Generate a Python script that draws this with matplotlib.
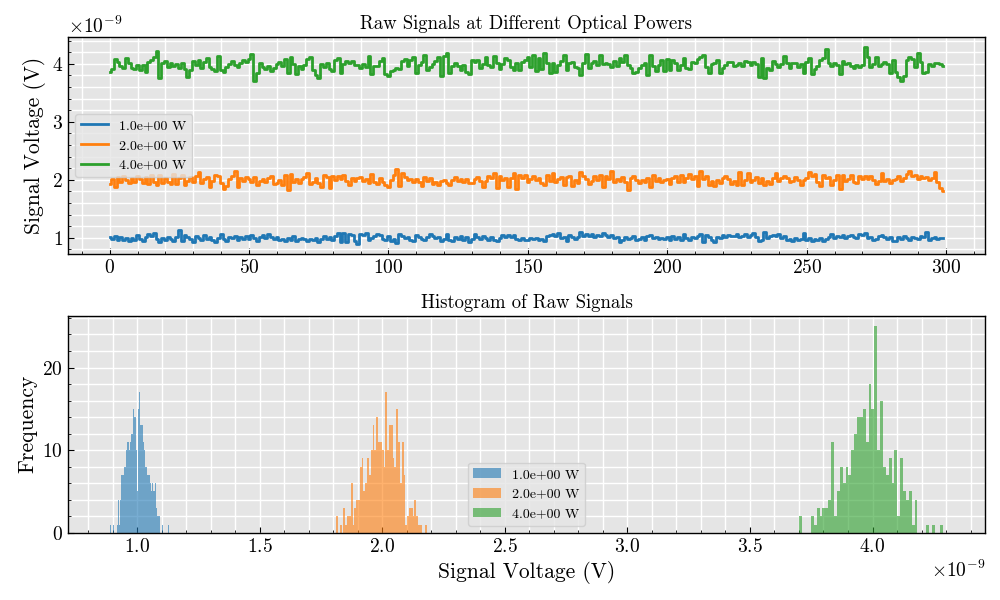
import matplotlib
matplotlib.use("Agg")
import matplotlib.pyplot as plt
import numpy as np
from matplotlib.ticker import AutoMinorLocator

# optical powers (W) and raw signal traces, values in units of 1e-9 V
powers = [1.0, 2.0, 4.0]

sig_1w = [
    1.012, 0.983, 1.021, 0.968, 1.004, 0.952, 0.989, 0.943, 0.997, 0.961,
    1.043, 0.976, 0.938, 1.009, 1.061, 1.032, 1.074, 0.981, 0.921, 0.993,
    0.958, 1.018, 0.972, 0.947, 1.006, 1.128, 0.936, 1.047, 1.015, 0.978,
    0.918, 1.026, 0.994, 0.962, 1.038, 0.985, 1.013, 0.954, 0.931, 1.002,
    1.067, 0.976, 0.941, 1.019, 0.988, 1.031, 0.963, 1.008, 0.979, 1.024,
    0.969, 1.052, 0.987, 0.948, 1.011, 1.044, 0.996, 1.058, 1.017, 0.973,
    1.006, 0.957, 0.984, 0.939, 0.992, 0.966, 1.021, 0.951, 0.978, 1.003,
    0.971, 0.944, 0.985, 0.956, 0.998, 0.932, 0.969, 1.027, 0.981, 1.012,
    0.962, 1.034, 1.079, 0.927, 1.086, 0.934, 1.057, 1.041, 0.946, 0.887,
    1.071, 1.049, 1.083, 0.952, 0.993, 1.028, 1.064, 1.039, 0.974, 0.957,
    1.036, 0.949, 0.974, 0.902, 1.061, 1.024, 0.991, 1.014, 0.967, 0.945,
    1.042, 1.006, 0.977, 0.958, 1.019, 1.066, 1.033, 0.986, 1.011, 0.943,
    0.981, 1.072, 0.959, 0.938, 1.004, 0.982, 1.027, 0.968, 1.013, 0.922,
    0.976, 1.058, 1.009, 0.971, 1.034, 0.987, 0.952, 1.016, 0.963, 0.941,
    0.992, 1.046, 1.018, 1.053, 1.007, 1.039, 0.984, 0.961, 0.997, 0.966,
    0.953, 0.989, 0.972, 1.001, 0.958, 0.983, 0.936, 1.022, 1.048, 1.063,
    1.031, 1.088, 0.994, 1.012, 0.947, 1.044, 1.019, 0.978, 1.005, 1.091,
    1.036, 1.069, 1.021, 1.057, 1.009, 1.047, 1.026, 1.073, 1.038, 1.014,
    1.052, 0.988, 1.017, 0.921, 0.959, 1.008, 0.973, 0.996, 1.023, 0.967,
    0.984, 1.011, 0.956, 1.029, 1.043, 0.994, 1.018, 0.971, 1.002, 0.979,
    1.013, 0.968, 1.026, 0.982, 1.007, 0.954, 1.059, 0.991, 0.962, 1.016,
    0.986, 1.024, 1.063, 0.932, 1.045, 1.007, 0.961, 0.921, 1.018, 0.993,
    1.041, 1.009, 1.053, 1.022, 1.037, 1.066, 1.004, 1.029, 1.071, 1.012,
    1.048, 1.077, 1.019, 0.943, 0.966, 1.092, 0.997, 1.021, 1.052, 1.034,
    1.061, 0.989, 1.028, 0.963, 0.981, 0.942, 0.996, 0.957, 0.974, 1.075,
    0.967, 0.992, 0.948, 0.983, 0.954, 1.003, 0.937, 0.969, 1.014, 1.068,
    0.991, 1.036, 1.012, 1.047, 1.003, 1.026, 1.054, 1.018, 0.988, 1.071,
    1.049, 1.082, 0.996, 1.013, 0.961, 0.982, 1.024, 1.038, 1.006, 0.977,
    1.011, 0.948, 0.939, 1.017, 0.984, 1.027, 0.993, 0.968, 1.012, 0.986,
    0.972, 1.031, 1.004, 1.103, 0.963, 0.988, 1.009, 0.978, 1.002, 0.991,
]

sig_2w = [
    1.928, 2.013, 1.872, 2.041, 1.962, 2.068, 1.987, 1.941, 2.032, 1.956,
    2.061, 2.019, 1.937, 2.052, 1.921, 2.087, 1.958, 1.903, 2.074, 1.947,
    2.036, 1.969, 1.918, 2.093, 1.934, 2.027, 2.081, 1.909, 1.976, 2.048,
    1.961, 2.072, 2.131, 1.944, 2.006, 2.043, 1.873, 1.982, 2.086, 2.057,
    1.951, 1.843, 1.887, 2.012, 2.063, 2.158, 1.871, 2.024, 1.986, 2.039,
    2.018, 1.964, 2.047, 1.912, 1.978, 2.009, 1.953, 2.033, 2.071, 1.926,
    1.948, 1.991, 1.917, 2.082, 1.818, 2.094, 1.962, 2.016, 1.938, 2.004,
    2.047, 2.112, 1.932, 1.966, 2.023, 1.941, 1.872, 2.076, 2.044, 1.861,
    2.058, 1.996, 2.067, 2.021, 2.083, 1.973, 1.902, 2.037, 1.981, 2.026,
    2.052, 1.977, 2.014, 1.946, 2.091, 1.962, 1.928, 2.033, 1.954, 1.901,
    1.871, 1.993, 2.078, 2.183, 1.897, 2.113, 2.046, 1.987, 2.018, 1.957,
    2.012, 1.968, 1.889, 2.041, 1.981, 2.027, 1.924, 1.962, 1.908, 1.986,
    2.003, 1.947, 1.916, 1.992, 2.054, 1.971, 2.019, 1.958, 2.008, 1.942,
    1.937, 2.011, 2.042, 1.973, 1.868, 1.981, 2.061, 2.038, 2.117, 1.862,
    2.064, 1.997, 2.023, 1.878, 2.031, 2.121, 1.842, 2.084, 2.037, 2.073,
    1.962, 2.014, 2.057, 1.993, 2.038, 1.946, 1.913, 2.082, 1.976, 2.124,
    1.957, 2.016, 2.048, 1.917, 2.039, 2.064, 1.894, 1.989, 1.952, 2.138,
    2.071, 2.004, 1.921, 1.978, 2.058, 1.993, 2.079, 1.866, 2.061, 2.017,
    2.142, 1.968, 2.008, 1.982, 2.052, 1.959, 1.831, 2.028, 2.061, 2.003,
    1.941, 2.002, 1.966, 2.024, 1.876, 2.081, 1.973, 2.036, 1.958, 1.994,
    2.006, 1.922, 2.031, 2.067, 1.969, 2.086, 1.961, 2.022, 2.091, 2.013,
    2.059, 1.894, 2.142, 2.018, 2.063, 1.914, 1.977, 1.892, 1.997, 1.938,
    2.034, 2.071, 2.009, 1.927, 1.983, 1.911, 2.136, 1.908, 1.994, 2.108,
    1.967, 2.002, 2.054, 1.938, 2.026, 1.906, 1.979, 1.932, 2.037, 2.112,
    1.984, 2.036, 2.062, 2.029, 1.958, 1.972, 2.046, 1.989, 1.917, 1.996,
    2.024, 2.138, 2.066, 2.091, 1.963, 1.893, 2.087, 2.031, 2.053, 1.912,
    1.987, 2.077, 1.842, 2.089, 1.978, 2.004, 2.083, 1.967, 1.936, 2.069,
    2.012, 2.058, 2.019, 2.062, 1.996, 1.918, 1.981, 2.118, 1.984, 2.007,
    1.938, 1.993, 2.021, 2.064, 1.986, 2.034, 2.103, 2.148, 2.056, 2.083,
    2.017, 2.062, 2.028, 2.051, 1.997, 2.036, 2.127, 1.969, 1.852, 1.811,
]

sig_4w = [
    3.852, 3.918, 4.081, 4.027, 3.963, 3.932, 4.097, 4.018, 3.934, 3.911,
    3.987, 3.889, 3.972, 3.867, 4.031, 4.064, 4.118, 4.224, 3.763, 4.006,
    4.043, 3.951, 4.012, 3.958, 3.997, 3.928, 4.021, 3.917, 3.781, 3.892,
    4.048, 3.976, 4.059, 3.921, 4.029, 4.102, 3.946, 3.912, 3.873, 4.143,
    3.886, 3.861, 3.938, 4.003, 4.047, 3.982, 3.943, 4.017, 4.069, 4.033,
    4.088, 4.171, 3.712, 3.836, 4.011, 3.947, 3.909, 3.968, 3.878, 3.927,
    3.991, 4.023, 3.954, 4.076, 3.838, 4.114, 4.002, 3.829, 3.961, 3.914,
    3.972, 4.083, 4.118, 3.889, 3.803, 3.752, 3.993, 3.937, 4.014, 3.906,
    3.871, 4.067, 4.092, 3.848, 3.998, 4.042, 4.011, 4.053, 3.976, 3.988,
    3.936, 4.004, 3.947, 4.131, 3.818, 3.968, 3.959, 4.041, 4.096, 3.824,
    3.793, 3.871, 3.897, 3.926, 3.908, 4.052, 4.087, 3.966, 4.061, 4.121,
    3.842, 3.983, 4.036, 4.152, 3.892, 3.938, 4.004, 4.047, 4.123, 3.792,
    4.139, 4.178, 3.838, 3.958, 4.012, 3.967, 3.896, 3.983, 3.862, 3.831,
    4.067, 4.028, 4.058, 3.921, 4.002, 4.117, 3.977, 3.946, 4.128, 4.018,
    3.917, 3.992, 4.094, 4.068, 3.941, 3.893, 4.011, 3.887, 4.027, 4.059,
    4.126, 3.949, 4.154, 3.884, 4.098, 3.912, 4.182, 4.021, 3.839, 4.009,
    3.863, 3.981, 4.042, 4.148, 3.897, 4.013, 4.038, 3.952, 3.921, 3.807,
    4.015, 4.176, 3.928, 4.006, 4.041, 3.973, 4.151, 4.003, 4.010, 3.996,
    3.948, 4.044, 3.967, 4.092, 4.026, 4.159, 3.971, 3.926, 3.839, 3.862,
    3.927, 3.988, 4.012, 3.811, 4.147, 3.954, 3.871, 3.982, 4.068, 3.873,
    4.091, 3.897, 4.062, 4.007, 3.891, 3.987, 4.098, 3.932, 3.903, 4.038,
    4.008, 4.087, 4.119, 4.156, 3.943, 3.842, 3.993, 4.012, 4.069, 3.836,
    3.921, 3.987, 4.023, 4.031, 3.954, 3.982, 4.014, 3.966, 4.042, 4.037,
    3.974, 4.026, 3.989, 3.781, 4.094, 3.758, 3.932, 3.889, 4.042, 4.003,
    3.947, 3.994, 4.127, 4.012, 3.924, 4.016, 4.013, 3.946, 3.992, 3.837,
    4.039, 4.094, 3.831, 3.917, 3.958, 4.071, 4.106, 4.251, 4.012, 3.954,
    4.008, 3.972, 3.818, 4.043, 3.998, 4.011, 3.967, 3.926, 3.984, 3.953,
    3.987, 4.289, 4.117, 3.948, 3.991, 4.124, 3.963, 3.992, 4.036, 4.001,
    3.838, 4.064, 3.867, 3.779, 3.702, 3.798, 4.072, 4.126, 4.088, 3.951,
    4.181, 4.037, 3.833, 3.864, 3.989, 3.958, 4.014, 4.009, 3.992, 3.961,
]

signals = [np.array(s) * 1e-9 for s in (sig_1w, sig_2w, sig_4w)]
labels = [f"{p:.1e} W" for p in powers]
colors = ["#1f77b4", "#ff7f0e", "#2ca02c"]

plt.rcParams.update({
    "font.family": "serif",
    "font.serif": ["cmr10", "DejaVu Serif"],
    "mathtext.fontset": "cm",
    "axes.formatter.use_mathtext": True,
    "axes.unicode_minus": False,
    "font.size": 14,
    "axes.facecolor": "#E5E5E5",
    "axes.edgecolor": "black",
    "axes.linewidth": 1.0,
    "xtick.direction": "in",
    "ytick.direction": "in",
    "xtick.labelsize": 14,
    "ytick.labelsize": 14,
})

fig, (ax1, ax2) = plt.subplots(2, 1, figsize=(10, 6), dpi=100)
fig.subplots_adjust(left=0.068, right=0.985, top=0.938, bottom=0.112, hspace=0.285)

t = np.arange(len(sig_1w))
for sig, lab, c in zip(signals, labels, colors):
    ax1.plot(t, sig, drawstyle="steps-mid", lw=2, color=c, label=lab)
ax1.set_title("Raw Signals at Different Optical Powers", fontsize=13.5)
ax1.set_ylabel("Signal Voltage (V)", fontsize=15.5)
ax1.legend(loc="center left", fontsize=10, framealpha=0.8)

for sig, lab, c in zip(signals, labels, colors):
    ax2.hist(sig, bins=50, alpha=0.6, color=c, label=lab)
ax2.set_title("Histogram of Raw Signals", fontsize=13.5)
ax2.set_xlabel("Signal Voltage (V)", fontsize=15.5)
ax2.set_ylabel("Frequency", fontsize=15.5)
ax2.legend(loc="lower center", fontsize=10, framealpha=0.8)

for ax in (ax1, ax2):
    ax.xaxis.set_minor_locator(AutoMinorLocator())
    ax.yaxis.set_minor_locator(AutoMinorLocator())
    ax.grid(which="both", color="white", lw=1.0)
    ax.set_axisbelow(True)
    ax.tick_params(which="major", length=4)
    ax.tick_params(which="minor", length=2)

fig.savefig("out.png", dpi=100)
